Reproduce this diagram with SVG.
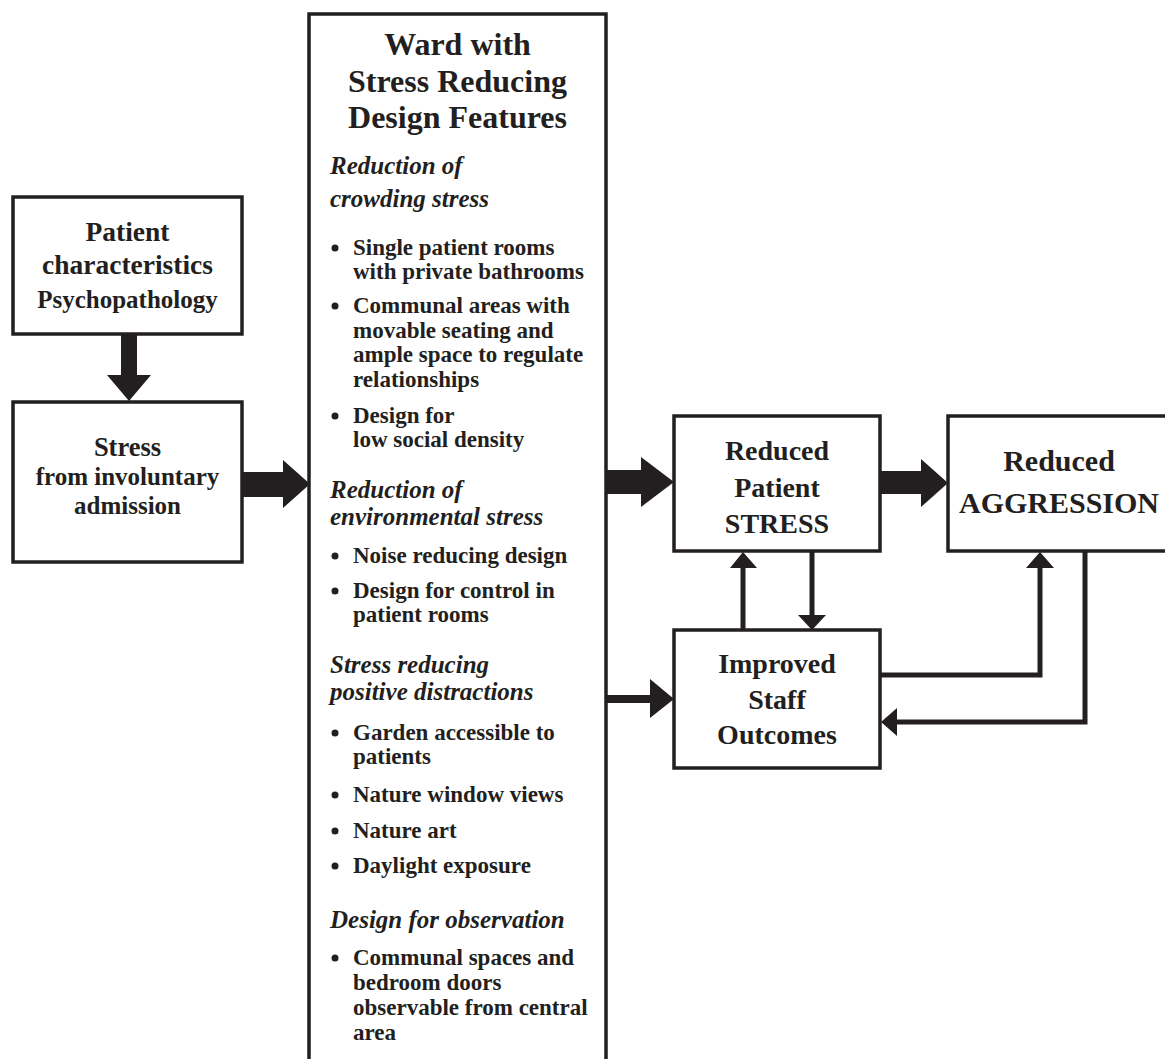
<svg xmlns="http://www.w3.org/2000/svg" width="1165" height="1059" viewBox="0 0 1165 1059">
<style>
.box{fill:#fff;stroke:#231f20;stroke-width:3.5}
.t{font-family:"Liberation Serif",serif;font-weight:bold;fill:#231f20;text-anchor:middle}
.b{font-family:"Liberation Serif",serif;font-weight:bold;fill:#231f20;font-size:23px}
.h{font-family:"Liberation Serif",serif;font-weight:bold;font-style:italic;fill:#231f20;font-size:25px}
.dot{fill:#231f20}
.ln{fill:none;stroke:#231f20;stroke-width:5}
.ah{fill:#231f20}
</style>
<rect width="1165" height="1059" fill="#fff"/>
<g id="connectors">
  <rect class="ah" x="121" y="333" width="16" height="43"/>
  <polygon class="ah" points="107,375 151,375 129,401"/>
  <rect class="ah" x="241" y="472" width="43" height="25"/>
  <polygon class="ah" points="283,460 283,508 310,484"/>
  <rect class="ah" x="605" y="470" width="37" height="24"/>
  <polygon class="ah" points="641,457 641,507 674,482"/>
  <rect class="ah" x="879" y="471" width="43" height="23"/>
  <polygon class="ah" points="921,459 921,507 948,483"/>
  <rect class="ah" x="605" y="695" width="46" height="8"/>
  <polygon class="ah" points="650,679 650,718 674,699"/>
  <line class="ln" x1="743" y1="630" x2="743" y2="566"/>
  <polygon class="ah" points="730,568 757,568 743,552"/>
  <line class="ln" x1="812" y1="551" x2="812" y2="617"/>
  <polygon class="ah" points="798,615 826,615 812,630"/>
  <polyline class="ln" points="880,675 1040,675 1040,566"/>
  <polygon class="ah" points="1026,568 1054,568 1040,552"/>
  <polyline class="ln" points="1085,551 1085,722 895,722"/>
  <polygon class="ah" points="897,708 897,736 881,722"/>
</g>
<g id="patient">
  <rect class="box" x="13" y="197" width="229" height="137"/>
  <text class="t" x="127.5" y="241" font-size="27.5">Patient</text>
  <text class="t" x="127.5" y="274" font-size="27.5">characteristics</text>
  <text class="t" x="127.5" y="308" font-size="25">Psychopathology</text>
</g>
<g id="stress">
  <rect class="box" x="13" y="402" width="229" height="160"/>
  <text class="t" x="127.5" y="456" font-size="26.5">Stress</text>
  <text class="t" x="127.5" y="485" font-size="25">from involuntary</text>
  <text class="t" x="127.5" y="514" font-size="25">admission</text>
</g>
<g id="ward">
  <rect class="box" x="309" y="14" width="297" height="1100"/>
  <text class="t" x="457.5" y="55" font-size="32">Ward with</text>
  <text class="t" x="457.5" y="92" font-size="32">Stress Reducing</text>
  <text class="t" x="457.5" y="128" font-size="32">Design Features</text>
  <text class="h" x="330" y="174">Reduction of</text>
  <text class="h" x="330" y="207">crowding stress</text>
  <circle class="dot" cx="335" cy="248" r="3.5"/>
  <text class="b" x="353" y="255">Single patient rooms</text>
  <text class="b" x="353" y="279">with private bathrooms</text>
  <circle class="dot" cx="335" cy="306" r="3.5"/>
  <text class="b" x="353" y="313">Communal areas with</text>
  <text class="b" x="353" y="338">movable seating and</text>
  <text class="b" x="353" y="362">ample space to regulate</text>
  <text class="b" x="353" y="387">relationships</text>
  <circle class="dot" cx="335" cy="416" r="3.5"/>
  <text class="b" x="353" y="423">Design for</text>
  <text class="b" x="353" y="447">low social density</text>
  <text class="h" x="330" y="498">Reduction of</text>
  <text class="h" x="330" y="525">environmental stress</text>
  <circle class="dot" cx="335" cy="556" r="3.5"/>
  <text class="b" x="353" y="563">Noise reducing design</text>
  <circle class="dot" cx="335" cy="591" r="3.5"/>
  <text class="b" x="353" y="598">Design for control in</text>
  <text class="b" x="353" y="622">patient rooms</text>
  <text class="h" x="330" y="673">Stress reducing</text>
  <text class="h" x="330" y="700">positive distractions</text>
  <circle class="dot" cx="335" cy="733" r="3.5"/>
  <text class="b" x="353" y="740">Garden accessible to</text>
  <text class="b" x="353" y="764">patients</text>
  <circle class="dot" cx="335" cy="795" r="3.5"/>
  <text class="b" x="353" y="802">Nature window views</text>
  <circle class="dot" cx="335" cy="831" r="3.5"/>
  <text class="b" x="353" y="838">Nature art</text>
  <circle class="dot" cx="335" cy="866" r="3.5"/>
  <text class="b" x="353" y="873">Daylight exposure</text>
  <text class="h" x="330" y="928">Design for observation</text>
  <circle class="dot" cx="335" cy="958" r="3.5"/>
  <text class="b" x="353" y="965">Communal spaces and</text>
  <text class="b" x="353" y="990">bedroom doors</text>
  <text class="b" x="353" y="1015">observable from central</text>
  <text class="b" x="353" y="1040">area</text>
</g>
<g id="patient-stress">
  <rect class="box" x="674" y="416" width="206" height="135"/>
  <text class="t" x="777" y="460" font-size="28">Reduced</text>
  <text class="t" x="777" y="497" font-size="28">Patient</text>
  <text class="t" x="777" y="533" font-size="28">STRESS</text>
</g>
<g id="aggression">
  <rect class="box" x="948" y="416" width="240" height="135"/>
  <text class="t" x="1059" y="471" font-size="30">Reduced</text>
  <text class="t" x="1059" y="513" font-size="30">AGGRESSION</text>
</g>
<g id="staff">
  <rect class="box" x="674" y="630" width="206" height="138"/>
  <text class="t" x="777" y="673" font-size="28">Improved</text>
  <text class="t" x="777" y="709" font-size="28">Staff</text>
  <text class="t" x="777" y="744" font-size="28">Outcomes</text>
</g>
</svg>
